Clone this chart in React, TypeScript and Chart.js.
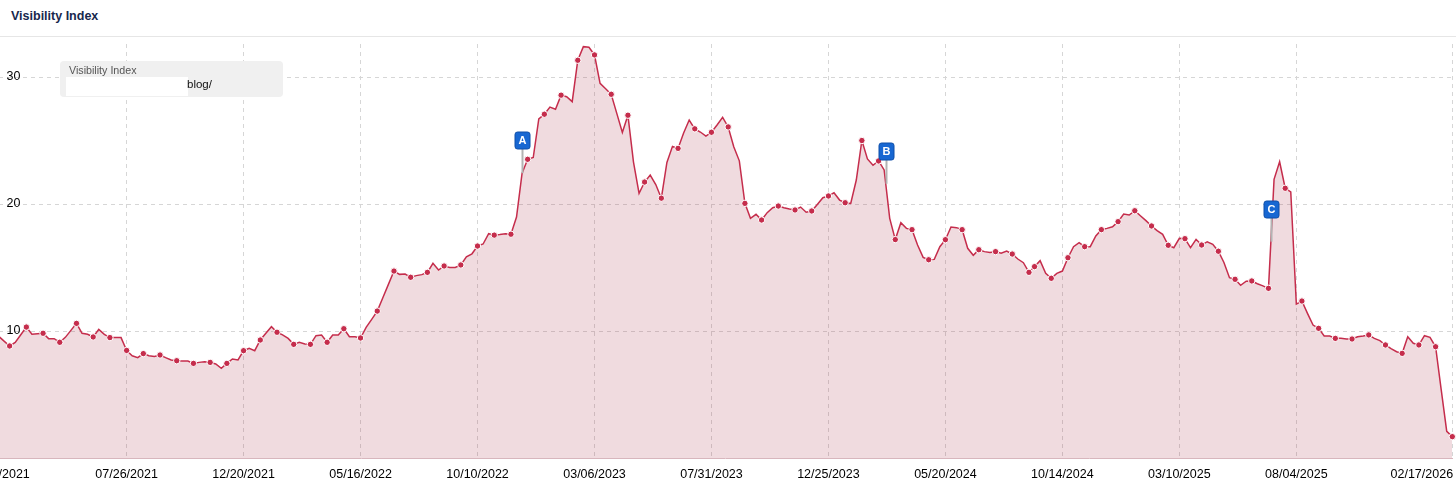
import React, { useEffect, useRef } from "react";
import { Chart, registerables } from "chart.js";

Chart.register(...registerables);

// ---------- data ----------
const START_DATE = "2021-02-15"; // first weekly category
const LAST_LABEL = "02/17/2026"; // label of the latest data point

const VISIBILITY: number[] = [
  9.6, 9.2, 8.82, 9.1, 9.7, 10.31, 9.74, 9.78, 9.82, 9.4,
  9.4, 9.11, 9.5, 10.05, 10.6, 9.82, 9.74, 9.53, 10.13, 9.74,
  9.48, 9.48, 9.48, 8.47, 8.05, 7.9, 8.22, 8.06, 8.0, 8.11,
  7.9, 7.72, 7.66, 7.64, 7.64, 7.45, 7.53, 7.58, 7.53, 7.4,
  7.06, 7.45, 7.8, 7.72, 8.45, 8.63, 8.45, 9.29, 9.82, 10.34,
  9.9, 9.69, 9.42, 8.95, 9.11, 8.98, 8.95, 9.63, 9.69, 9.11,
  9.69, 9.69, 10.18, 9.55, 9.55, 9.45, 10.29, 10.92, 11.57, 12.62,
  13.67, 14.72, 14.46, 14.49, 14.23, 14.36, 14.44, 14.62, 15.33, 14.8,
  15.12, 15.01, 15.01, 15.2, 15.85, 16.08, 16.69, 16.85, 17.66, 17.55,
  17.6, 17.66, 17.62, 18.97, 22.42, 23.52, 23.66, 26.7, 27.07, 27.63,
  27.46, 28.57, 28.45, 28.06, 31.32, 32.39, 32.34, 31.74, 29.5, 29.07,
  28.64, 27.14, 25.63, 26.99, 23.3, 20.84, 21.73, 22.28, 21.53, 20.46,
  23.27, 24.54, 24.38, 25.59, 26.61, 25.92, 25.67, 25.35, 25.65, 26.22,
  26.83, 26.07, 24.51, 23.4, 20.05, 18.87, 19.19, 18.74, 19.32, 19.71,
  19.84, 19.71, 19.61, 19.53, 19.76, 19.35, 19.45, 19.97, 20.5, 20.63,
  20.89, 20.31, 20.1, 20.05, 21.89, 25.0, 23.55, 23.05, 23.39, 22.68,
  18.87, 17.2, 18.53, 18.08, 17.98, 16.77, 15.8, 15.61, 15.64, 16.64,
  17.19, 18.19, 18.14, 17.98, 16.51, 15.96, 16.4, 16.25, 16.19, 16.25,
  16.12, 16.3, 16.06, 15.67, 15.38, 14.62, 15.07, 15.54, 14.54, 14.15,
  14.54, 14.72, 15.77, 16.64, 16.95, 16.64, 16.64, 17.48, 17.98, 18.08,
  18.21, 18.61, 19.21, 19.13, 19.47, 19.08, 18.69, 18.27, 17.9, 17.61,
  16.75, 16.56, 17.3, 17.27, 16.56, 17.22, 16.77, 17.03, 16.82, 16.28,
  15.4, 14.2, 14.07, 13.6, 13.92, 13.94, 13.72, 13.55, 13.36, 21.94,
  23.33, 21.24, 20.95, 12.12, 12.36, 11.39, 10.47, 10.21, 9.61, 9.61,
  9.42, 9.42, 9.37, 9.37, 9.55, 9.61, 9.69, 9.42, 9.24, 8.9,
  8.61, 8.37, 8.24, 9.55, 9.03, 8.9, 9.63, 9.5, 8.76, 5.4,
  2.1, 1.68,
];

const TICK_LABELS = [
  "02/15/2021", "07/26/2021", "12/20/2021", "05/16/2022", "10/10/2022",
  "03/06/2023", "07/31/2023", "12/25/2023", "05/20/2024", "10/14/2024",
  "03/10/2025", "08/04/2025", "02/17/2026",
];

const EVENT_LABELS = ["A", "B", "C"];
const EVENT_DATES = ["2022-12-05", "2024-03-06", "2025-07-03"];

const Y_MAX = 32.6;
const Y_STEP = 10;

// ---------- helpers ----------
const DAY = 86400000;
const startMs = Date.parse(START_DATE + "T00:00:00Z");
const fmt = (ms: number) => {
  const d = new Date(ms);
  const mm = String(d.getUTCMonth() + 1).padStart(2, "0");
  const dd = String(d.getUTCDate()).padStart(2, "0");
  return `${mm}/${dd}/${d.getUTCFullYear()}`;
};
const CATEGORIES: string[] = VISIBILITY.map((_, i) =>
  i === VISIBILITY.length - 1 ? LAST_LABEL : fmt(startMs + i * 7 * DAY)
);
const weekPos = (iso: string) => (Date.parse(iso + "T00:00:00Z") - startMs) / (7 * DAY);

// marker dots every third week (sampling shifts by one week late 2024)
const hasDot = (i: number) => (i <= 185 ? i % 3 === 2 : i % 3 === 0);

const LINE = "#c52d4c";
const FILL = "rgba(168, 42, 66, 0.17)";
const GRID = "#d6d6d6";
const FONT = "'Liberation Sans', Arial, sans-serif";

const zeroPadding = (axis: any) => {
  axis.paddingLeft = 0;
  axis.paddingRight = 0;
  axis.paddingTop = 0;
  axis.paddingBottom = 0;
};

const lastLabelPlugin = {
  id: "lastLabelInside",
  beforeDraw(chart: any) {
    const xs: any = chart.scales.x;
    if (!xs || typeof xs.getLabelItems !== "function") return;
    const items = xs.getLabelItems();
    if (!items || !items.length) return;
    const last = items[items.length - 1];
    if (last && last.options && last.options.translation) {
      last.options.textAlign = "right";
      last.options.translation = [chart.chartArea.right + 0.8, last.options.translation[1]];
    }
  },
};

const eventsPlugin = {
  id: "eventFlags",
  afterDatasetsDraw(chart: any) {
    const { ctx } = chart;
    const xs = chart.scales.x;
    const ys = chart.scales.y;
    ctx.save();
    EVENT_DATES.forEach((iso, k) => {
      const pos = weekPos(iso);
      const i0 = Math.floor(pos);
      const f = pos - i0;
      const v = VISIBILITY[i0] + (VISIBILITY[i0 + 1] - VISIBILITY[i0]) * f;
      const x = Math.round(xs.getPixelForValue(pos)) + 0.5;
      const y = ys.getPixelForValue(v);
      const bottom = Math.round(y - 24);
      ctx.strokeStyle = "#b3b3b3";
      ctx.lineWidth = 2;
      ctx.beginPath();
      ctx.moveTo(x, bottom);
      ctx.lineTo(x, y);
      ctx.stroke();
      const w = 15;
      const h = 17;
      const left = x - w / 2;
      const top = bottom - h;
      ctx.beginPath();
      if (ctx.roundRect) ctx.roundRect(left, top, w, h, 2.5);
      else ctx.rect(left, top, w, h);
      ctx.fillStyle = "#1767d2";
      ctx.fill();
      ctx.strokeStyle = "#0e4ea8";
      ctx.lineWidth = 1;
      ctx.stroke();
      ctx.fillStyle = "#ffffff";
      ctx.font = `bold 11px ${FONT}`;
      ctx.textAlign = "center";
      ctx.textBaseline = "middle";
      ctx.fillText(EVENT_LABELS[k], x, top + h / 2 + 0.5);
    });
    ctx.restore();
  },
};

export default function App() {
  const ref = useRef<HTMLCanvasElement | null>(null);

  useEffect(() => {
    document.body.style.margin = "0";
    if (!ref.current) return;
    const chart = new Chart(ref.current, {
      type: "line",
      data: {
        labels: CATEGORIES,
        datasets: [
          {
            data: VISIBILITY,
            borderColor: LINE,
            backgroundColor: FILL,
            fill: "origin",
            borderWidth: 1.5,
            tension: 0,
            pointRadius: (c: any) => (hasDot(c.dataIndex) ? 3.2 : 0),
            pointHoverRadius: 0,
            pointBackgroundColor: LINE,
            pointBorderColor: "#ffffff",
            pointBorderWidth: 1,
            clip: false,
          } as any,
        ],
      },
      options: {
        responsive: false,
        animation: false,
        devicePixelRatio: 1,
        events: [],
        layout: { padding: { left: 0.5, right: 3.7, top: 6, bottom: 0 }, autoPadding: false } as any,
        plugins: {
          legend: { display: false },
          tooltip: { enabled: false },
          title: { display: false },
        },
        scales: {
          x: {
            type: "category",
            offset: false,
            grid: { color: GRID, lineWidth: 1, drawTicks: false, offset: false },
            border: { display: true, color: "#d8b6bd", width: 1, dash: [4, 4] },
            ticks: {
              autoSkip: false,
              maxRotation: 0,
              minRotation: 0,
              padding: 9,
              color: "#000000",
              font: { family: FONT, size: 12.5 },
            },
            afterBuildTicks: (axis: any) => {
              axis.ticks = axis.ticks.filter((t: any) => TICK_LABELS.includes(CATEGORIES[t.value]));
            },
            afterFit: (axis: any) => {
              axis.height = 29;
              zeroPadding(axis);
            },
          } as any,
          y: {
            min: 0,
            max: Y_MAX,
            grid: {
              color: (c: any) => (c.tick && c.tick.value === 0 ? "rgba(0,0,0,0)" : GRID),
              lineWidth: 1,
              drawTicks: false,
            },
            border: { display: false, dash: [4, 4] },
            ticks: {
              stepSize: Y_STEP,
              includeBounds: false,
              mirror: true,
              padding: 8,
              color: "#000000",
              font: { family: FONT, size: 12.5 },
              callback: (v: any) => (v === 0 ? "" : String(v)),
            },
            afterFit: (axis: any) => {
              axis.width = 0;
              zeroPadding(axis);
            },
          } as any,
        },
      },
      plugins: [lastLabelPlugin, eventsPlugin],
    });
    return () => chart.destroy();
  }, []);

  return (
    <div
      style={{
        position: "relative",
        width: 1456,
        height: 487,
        overflow: "hidden",
        background: "#ffffff",
        fontFamily: FONT,
      }}
    >
      <div
        style={{
          position: "absolute",
          left: 11,
          top: 10,
          font: `bold 12.5px ${FONT}`,
          lineHeight: "12.5px",
          color: "#17284d",
          whiteSpace: "nowrap",
        }}
      >
        Visibility Index
      </div>
      <div style={{ position: "absolute", left: 0, top: 36, width: 1456, height: 1, background: "#e6e6e6" }} />
      <div style={{ position: "absolute", left: -2, top: 38, width: 1458, height: 449 }}>
        <canvas ref={ref} width={1458} height={449} style={{ display: "block" }} />
      </div>
      <div
        style={{
          position: "absolute",
          left: 60,
          top: 61,
          width: 223,
          height: 36,
          background: "#f0f0f0",
          borderRadius: 4,
        }}
      >
        <div
          style={{
            position: "absolute",
            left: 9,
            top: 4,
            font: `10.7px ${FONT}`,
            lineHeight: "10.7px",
            color: "#555555",
            whiteSpace: "nowrap",
          }}
        >
          Visibility Index
        </div>
        <div style={{ position: "absolute", left: 6, top: 16, width: 122, height: 19, background: "#ffffff" }} />
        <div
          style={{
            position: "absolute",
            left: 127,
            top: 17.5,
            font: `11.5px ${FONT}`,
            lineHeight: "11.5px",
            color: "#111111",
            whiteSpace: "nowrap",
          }}
        >
          blog/
        </div>
      </div>
    </div>
  );
}
